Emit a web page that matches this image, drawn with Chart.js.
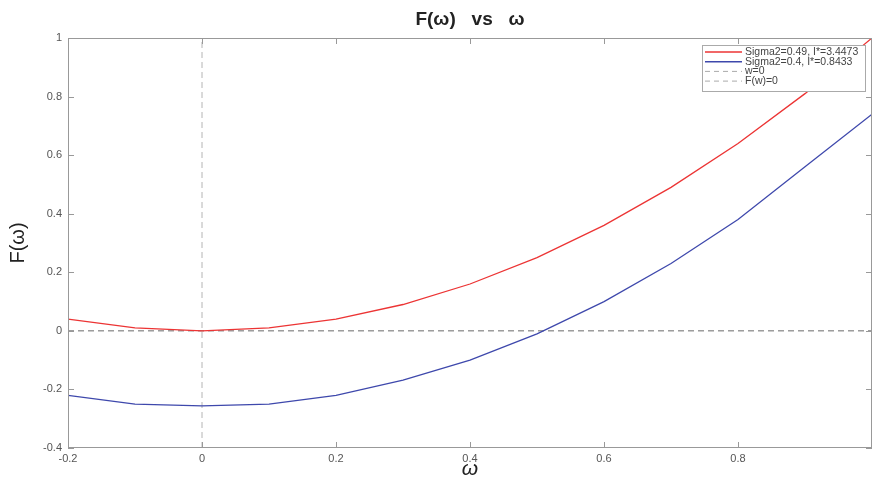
<!DOCTYPE html>
<html>
<head>
<meta charset="utf-8">
<script src="https://cdn.jsdelivr.net/npm/chart.js@4"></script>
<style>
  html, body { margin: 0; padding: 0; background: #fff; }
</style>
</head>
<body>
<canvas id="grafico" width="872" height="482"></canvas>
<script>
// valores
const omega = [-0.2, -0.1, 0, 0.1, 0.2, 0.3, 0.4, 0.5, 0.6, 0.7, 0.8, 0.9, 1.0];
const fSigma049 = [0.04, 0.01, 0, 0.01, 0.04, 0.09, 0.16, 0.25, 0.36, 0.49, 0.64, 0.81, 1.0];
const fSigma04 = [-0.22, -0.25, -0.256, -0.25, -0.22, -0.168, -0.10, -0.01, 0.10, 0.23, 0.38, 0.56, 0.74];
const rotulos = ['Sigma2=0.49, I*=3.4473', 'Sigma2=0.4, I*=0.8433', 'w=0', 'F(w)=0'];
const limitesX = [-0.2, 1.0];
const limitesY = [-0.4, 1.0];

const fonte = '"Liberation Sans", Arial, sans-serif';
const pontos = (xs, ys) => xs.map((x, i) => ({ x, y: ys[i] }));

// caixa estilo matlab com ticks para dentro + legenda no canto
const caixaPlugin = {
  id: 'caixa',
  afterDatasetsDraw(chart) {
    const { ctx, chartArea: a, scales } = chart;
    ctx.save();
    ctx.strokeStyle = '#999';
    ctx.lineWidth = 1;
    ctx.strokeRect(a.left + 0.5, a.top + 0.5, a.right - a.left - 1, a.bottom - a.top - 1);
    ctx.beginPath();
    scales.x.ticks.forEach(t => {
      const px = Math.round(scales.x.getPixelForValue(t.value)) + 0.5;
      ctx.moveTo(px, a.bottom); ctx.lineTo(px, a.bottom - 6);
      ctx.moveTo(px, a.top); ctx.lineTo(px, a.top + 6);
    });
    scales.y.ticks.forEach(t => {
      const py = Math.round(scales.y.getPixelForValue(t.value)) + 0.5;
      ctx.moveTo(a.left, py); ctx.lineTo(a.left + 6, py);
      ctx.moveTo(a.right, py); ctx.lineTo(a.right - 6, py);
    });
    ctx.stroke();

    // legenda
    const bx = 702, by = a.top + 7, bw = 163, bh = 46, passo = 9.7;
    ctx.fillStyle = '#fff';
    ctx.fillRect(bx, by, bw, bh);
    ctx.strokeStyle = '#aaa';
    ctx.strokeRect(bx + 0.5, by + 0.5, bw, bh);
    ctx.font = '10.5px ' + fonte;
    ctx.textBaseline = 'middle';
    ctx.fillStyle = '#444';
    chart.data.datasets.forEach((d, i) => {
      const y = by + 7 + i * passo;
      ctx.beginPath();
      ctx.setLineDash(d.borderDash ? [5, 4] : []);
      ctx.strokeStyle = d.borderDash ? '#aaa' : d.borderColor;
      ctx.lineWidth = d.borderDash ? 1 : 1.5;
      ctx.moveTo(bx + 3, y);
      ctx.lineTo(bx + 40, y);
      ctx.stroke();
      ctx.fillText(d.label, bx + 43, y);
    });
    ctx.restore();
  }
};

const datasets = [
  { label: rotulos[0], data: pontos(omega, fSigma049), borderColor: 'rgb(236,52,52)', borderWidth: 1.3 },
  { label: rotulos[1], data: pontos(omega, fSigma04), borderColor: 'rgb(62,72,172)', borderWidth: 1.3 },
  { label: rotulos[2], data: [{ x: 0, y: limitesY[0] }, { x: 0, y: limitesY[1] }], borderColor: '#b4b4b4', borderWidth: 1, borderDash: [6, 4] },
  { label: rotulos[3], data: [{ x: limitesX[0], y: 0 }, { x: limitesX[1], y: 0 }], borderColor: '#6a6a6a', borderWidth: 1, borderDash: [6, 4] }
];
datasets.forEach(d => { d.pointRadius = 0; d.tension = 0; d.fill = false; });

new Chart(document.getElementById('grafico'), {
  type: 'line',
  data: { datasets },
  options: {
    responsive: false,
    animation: false,
    layout: { padding: 0 },
    plugins: {
      legend: { display: false },
      tooltip: { enabled: false },
      title: {
        display: true, text: 'F(ω)   vs   ω', fullSize: false,
        color: '#222', font: { family: fonte, size: 19, weight: 'bold' },
        padding: { top: 8, bottom: 7.2 }
      }
    },
    scales: {
      x: {
        type: 'linear', min: limitesX[0], max: limitesX[1],
        grid: { display: false, drawTicks: false, tickLength: 0 },
        border: { display: false },
        ticks: {
          stepSize: 0.2, autoSkip: false, maxRotation: 0, padding: 4,
          color: '#555', font: { family: fonte, size: 11 },
          callback: v => Math.abs(v - 1) < 1e-6 ? '' : String(Math.round(v * 10) / 10)
        },
        title: { display: true, text: 'ω', color: '#222', font: { family: fonte, size: 21, style: 'italic' }, padding: { top: 0, bottom: 0 } },
        afterFit: s => { s.height = 34; s.paddingRight = 0; }
      },
      y: {
        min: limitesY[0], max: limitesY[1],
        grid: { display: false, drawTicks: false, tickLength: 0 },
        border: { display: false },
        ticks: {
          stepSize: 0.2, autoSkip: false, padding: 6,
          color: '#555', font: { family: fonte, size: 11 },
          callback: v => String(Math.round(v * 10) / 10)
        },
        title: { display: true, text: 'F(ω)', color: '#222', font: { family: fonte, size: 20 }, padding: { top: 6, bottom: 0 } },
        afterFit: s => { s.width = 68; }
      }
    }
  },
  plugins: [caixaPlugin]
});
</script>
</body>
</html>
